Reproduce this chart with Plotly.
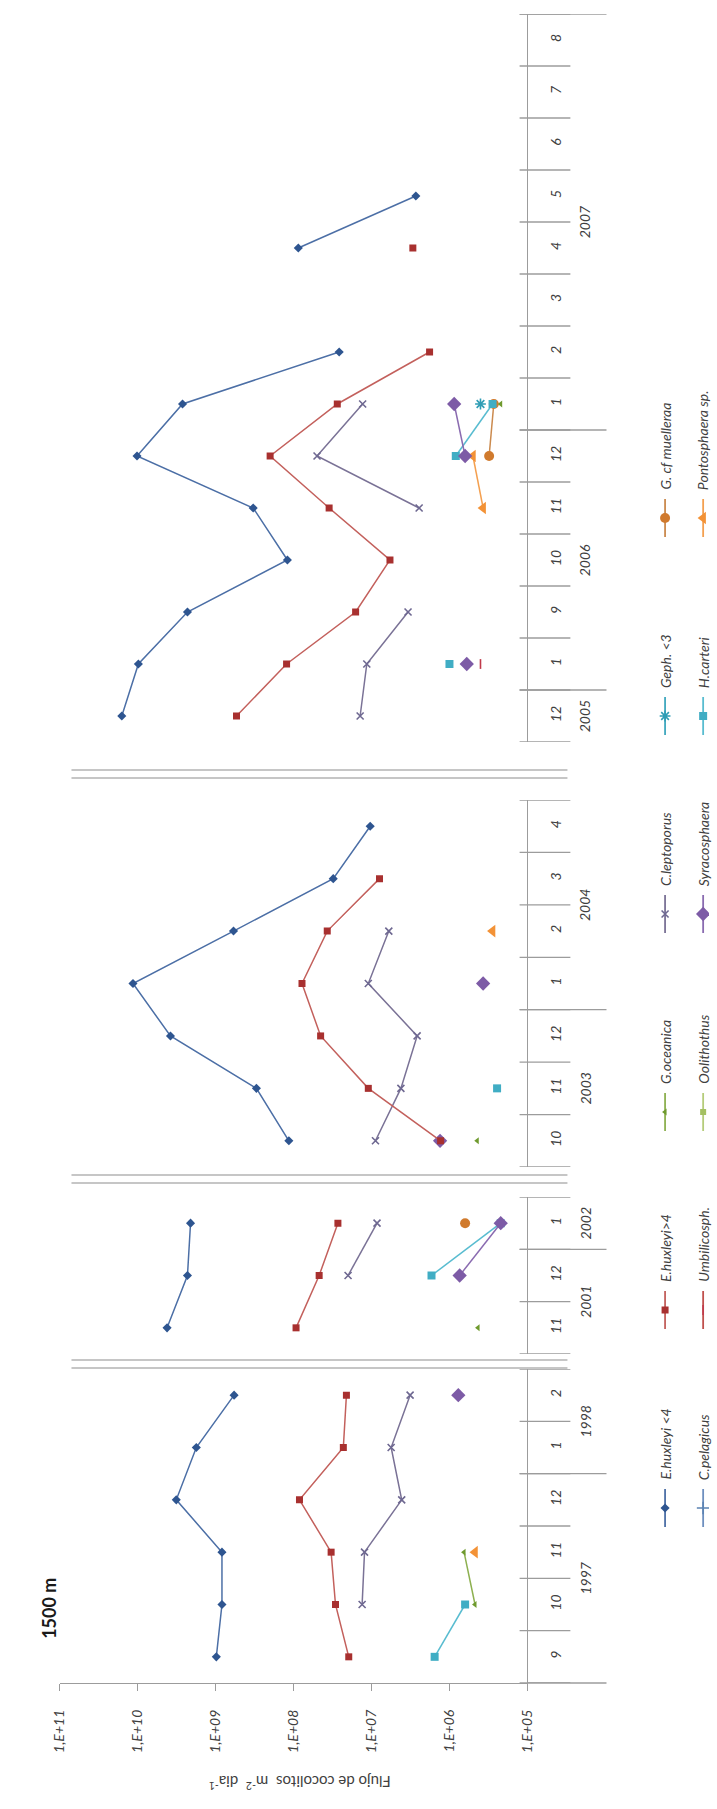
import plotly.graph_objects as go

W, H = 717, 1809
N = None

# ---------------- data: coccolith fluxes (coccoliths m-2 day-1) ----------------
# 1997-1998
months_97 = ["9", "10", "11", "12", "1", "2"]
years_97 = [("1997", 0, 3), ("1998", 4, 5)]
ehux_lt4_97 = [9.8e8, 8.3e8, 8.3e8, 3.2e9, 1.77e9, 5.8e8]
ehux_gt4_97 = [1.96e7, 2.9e7, 3.3e7, 8.4e7, 2.3e7, 2.1e7]
clepto_97 = [N, 1.32e7, 1.23e7, 4.1e6, 5.6e6, 3.2e6]
hcarteri_97 = [1.55e6, 6.3e5, N, N, N, N]
goceanica_97 = [N, 4.7e5, 6.5e5, N, N, N]
ponto_97 = [N, N, 4.7e5, N, N, N]
syraco_97 = [N, N, N, N, N, 7.7e5]

# 2001-2002
months_01 = ["11", "12", "1"]
years_01 = [("2001", 0, 1), ("2002", 2, 2)]
ehux_lt4_01 = [4.2e9, 2.3e9, 2.1e9]
ehux_gt4_01 = [9.3e7, 4.7e7, 2.7e7]
clepto_01 = [N, 2.0e7, 8.5e6]
goceanica_01 = [4.3e5, N, N]
hcarteri_01 = [N, 1.7e6, 2.2e5]
syraco_01 = [N, 7.4e5, 2.2e5]
gcf_01 = [N, N, 6.3e5]

# 2003-2004
months_03 = ["10", "11", "12", "1", "2", "3", "4"]
years_03 = [("2003", 0, 2), ("2004", 3, 6)]
ehux_lt4_03 = [1.15e8, 3.0e8, 3.8e9, 1.15e10, 5.9e8, 3.1e7, 1.04e7]
ehux_gt4_03 = [1.3e6, 1.1e7, 4.5e7, 7.8e7, 3.7e7, 7.9e6, N]
clepto_03 = [8.9e6, 4.2e6, 2.6e6, 1.1e7, 6.0e6, N, N]
syraco_03 = [1.32e6, N, N, 3.7e5, N, N, N]
goceanica_03 = [4.4e5, N, N, N, N, N, N]
hcarteri_03 = [N, 2.45e5, N, N, N, N, N]
ponto_03 = [N, N, N, N, 2.8e5, N, N]

# 2005-2007
months_05 = ["12", "1", "9", "10", "11", "12", "1", "2", "3", "4", "5", "6", "7", "8"]
years_05 = [("2005", 0, 0), ("2006", 1, 5), ("2007", 6, 13)]
ehux_lt4_05 = [1.6e10, 9.8e9, 2.3e9, 1.2e8, 3.3e8, 1.02e10, 2.66e9, 2.6e7, N, 8.7e7, 2.7e6, N, N, N]
ehux_gt4_05 = [5.4e8, 1.23e8, 1.6e7, 5.8e6, 3.5e7, 2.0e8, 2.75e7, 1.8e6, N, 2.95e6, N, N, N, N]
clepto_05 = [1.4e7, 1.15e7, 3.4e6, N, 2.45e6, 5.0e7, 1.3e7, N, N, N, N, N, N, N]
hcarteri_05 = [N, 1.0e6, N, N, N, 8.3e5, 2.8e5, N, N, N, N, N, N, N]
syraco_05 = [N, 6.0e5, N, N, N, 6.3e5, 8.7e5, N, N, N, N, N, N, N]
umbil_05 = [N, 4.0e5, N, N, N, N, N, N, N, N, N, N, N, N]
ponto_05 = [N, N, N, N, 3.7e5, 5.0e5, N, N, N, N, N, N, N, N]
gcf_05 = [N, N, N, N, N, 3.1e5, 2.7e5, N, N, N, N, N, N, N]
geph_05 = [N, N, N, N, N, N, 4.0e5, N, N, N, N, N, N, N]
goceanica_05 = [N, N, N, N, N, N, 2.2e5, N, N, N, N, N, N, N]

value_ticks = [1e11, 1e10, 1e9, 1e8, 1e7, 1e6, 1e5]
value_labels = ["1,E+11", "1,E+10", "1,E+09", "1,E+08", "1,E+07", "1,E+06", "1,E+05"]

legend_col1 = ["E.huxleyi <4", "E.huxleyi>4", "G.oceanica", "C.leptoporus", "Geph. <3", "G. cf muelleraa"]
legend_col2 = ["C.pelagicus", "Umbilicosph.", "Oolithothus", "Syracosphaera", "H.carteri", "Pontosphaera sp."]

# ---------------- styles ----------------
STYLE = {
    "E.huxleyi <4": dict(line="#4C6FA6", marker="#2E5590", symbol="diamond", size=7),
    "E.huxleyi>4": dict(line="#C3605C", marker="#A8302F", symbol="square", size=7),
    "G.oceanica": dict(line="#8DB050", marker="#6F9A2E", symbol="triangle-left", size=6),
    "C.leptoporus": dict(line="#7A7296", marker="#6E6891", symbol="x-thin-open", size=7),
    "Geph. <3": dict(line="#3FA8BE", marker="#2F9DB5", symbol="asterisk-open", size=9),
    "G. cf muelleraa": dict(line="#CB8A4E", marker="#D07A2D", symbol="circle", size=10),
    "C.pelagicus": dict(line="#6E8FBF", marker="#5B83B3", symbol="cross-thin-open", size=9),
    "Umbilicosph.": dict(line="#C0504D", marker="#C0394A", symbol="line-ns-open", size=7),
    "Oolithothus": dict(line="#B5CC7A", marker="#A4C062", symbol="square", size=6),
    "Syracosphaera": dict(line="#8A6BB0", marker="#7D5BA6", symbol="diamond", size=11),
    "H.carteri": dict(line="#58BCD0", marker="#40ADC4", symbol="square", size=8),
    "Pontosphaera sp.": dict(line="#F4A050", marker="#F39236", symbol="triangle-left", size=11),
}

# panels: (y axis id, months, years, series, top px, bottom px)
panels = [
    ("y", months_97, years_97, {
        "E.huxleyi <4": ehux_lt4_97, "E.huxleyi>4": ehux_gt4_97, "C.leptoporus": clepto_97,
        "H.carteri": hcarteri_97, "G.oceanica": goceanica_97, "Pontosphaera sp.": ponto_97,
        "Syracosphaera": syraco_97}, 1369, 1683),
    ("y2", months_01, years_01, {
        "E.huxleyi <4": ehux_lt4_01, "E.huxleyi>4": ehux_gt4_01, "C.leptoporus": clepto_01,
        "G.oceanica": goceanica_01, "H.carteri": hcarteri_01, "Syracosphaera": syraco_01,
        "G. cf muelleraa": gcf_01}, 1197, 1354),
    ("y3", months_03, years_03, {
        "E.huxleyi <4": ehux_lt4_03, "E.huxleyi>4": ehux_gt4_03, "C.leptoporus": clepto_03,
        "Syracosphaera": syraco_03, "G.oceanica": goceanica_03, "H.carteri": hcarteri_03,
        "Pontosphaera sp.": ponto_03}, 800, 1167),
    ("y4", months_05, years_05, {
        "E.huxleyi <4": ehux_lt4_05, "E.huxleyi>4": ehux_gt4_05, "C.leptoporus": clepto_05,
        "H.carteri": hcarteri_05, "Syracosphaera": syraco_05, "Umbilicosph.": umbil_05,
        "Pontosphaera sp.": ponto_05, "G. cf muelleraa": gcf_05, "Geph. <3": geph_05,
        "G.oceanica": goceanica_05}, 14, 742),
]

AX_X0, AX_X1 = 52, 531          # value axis span (px)
AXIS_COL = "#9C9C9C"
TXT = "#404040"
FONT = "Lato"


def px(x):
    return x / W


def py(y):
    return 1 - y / H


fig = go.Figure()
shapes, annotations = [], []

# draw order: small species first, the abundant ones on top
order = ["Pontosphaera sp.", "G. cf muelleraa", "G.oceanica", "Oolithothus", "Umbilicosph.",
         "Geph. <3", "H.carteri", "Syracosphaera", "C.pelagicus", "C.leptoporus",
         "E.huxleyi>4", "E.huxleyi <4"]

for yid, months, years, series, top, bot in panels:
    idx = list(range(len(months)))
    for name in order:
        if name not in series:
            continue
        st = STYLE[name]
        open_sym = st["symbol"].endswith("open")
        fig.add_trace(go.Scatter(
            x=series[name], y=idx, xaxis="x", yaxis=yid, mode="lines+markers",
            connectgaps=False, showlegend=False, name=name,
            line=dict(color=st["line"], width=1.5),
            marker=dict(symbol=st["symbol"], size=st["size"], color=st["marker"],
                        line=dict(color=st["marker"], width=1.6 if open_sym else 0)),
        ))
    n = len(months)
    # category separators (month level)
    for k in range(n + 1):
        shapes.append(dict(type="line", xref="paper", yref=yid, x0=px(523), x1=px(575),
                           y0=k - 0.5, y1=k - 0.5, line=dict(color=AXIS_COL, width=1.3)))
    # year labels and year separators
    for label, i0, i1 in years:
        annotations.append(dict(xref="paper", yref=yid, x=px(601), y=(i0 + i1) / 2,
                                text=label, textangle=-90, showarrow=False,
                                font=dict(family=FONT, size=14, color=TXT, style="italic")))
        if i0 > 0:
            shapes.append(dict(type="line", xref="paper", yref=yid, x0=px(523), x1=px(612),
                               y0=i0 - 0.5, y1=i0 - 0.5, line=dict(color=AXIS_COL, width=1.3)))

# outer year-level separators at chart extremes
shapes.append(dict(type="line", xref="paper", yref="y4", x0=px(523), x1=px(612),
                   y0=len(months_05) - 0.5, y1=len(months_05) - 0.5,
                   line=dict(color=AXIS_COL, width=1.3)))
shapes.append(dict(type="line", xref="paper", yref="paper", x0=px(AX_X1), x1=px(612),
                   y0=py(1683), y1=py(1683), line=dict(color=AXIS_COL, width=1.3)))

# axis break marks (double lines)
for y0 in (1360, 1175, 770):
    for dy in (0, 8):
        shapes.append(dict(type="line", xref="paper", yref="paper", x0=px(64), x1=px(572),
                           y0=py(y0 + dy), y1=py(y0 + dy),
                           line=dict(color="#C6C6C6", width=2)))

layout = dict(
    width=W, height=H, margin=dict(l=0, r=0, t=0, b=0),
    paper_bgcolor="white", plot_bgcolor="rgba(0,0,0,0)", showlegend=False,
    xaxis=dict(type="log", range=[11, 5], domain=[px(AX_X0), px(AX_X1)], anchor="y",
               tickvals=value_ticks, ticktext=value_labels, tickangle=-90,
               ticks="outside", ticklen=7, tickcolor=AXIS_COL, tickwidth=1.3,
               showline=True, linecolor=AXIS_COL, linewidth=1.3, showgrid=False,
               zeroline=False, ticklabelstandoff=13,
               tickfont=dict(family=FONT, size=14, color=TXT, style="italic")),
)
for i, (yid, months, years, series, top, bot) in enumerate(panels):
    key = "yaxis" if yid == "y" else "yaxis" + yid[1:]
    layout[key] = dict(domain=[py(bot), py(top)], anchor="x", side="right",
                       range=[-0.5, len(months) - 0.5], tickvals=list(range(len(months))),
                       ticktext=months, tickangle=-90, ticks="", showgrid=False,
                       zeroline=False, showline=True, linecolor=AXIS_COL, linewidth=1.3,
                       ticklabelstandoff=16,
                       tickfont=dict(family=FONT, size=14, color=TXT, style="italic"))

# overlay axes in pixel units for the legend keys
layout["xaxis2"] = dict(domain=[0, 1], range=[0, W], anchor="y5", visible=False, fixedrange=True)
layout["yaxis5"] = dict(domain=[0, 1], range=[H, 0], anchor="x2", visible=False, fixedrange=True)
fig.update_layout(**layout)

LEG_Y = [1508, 1310, 1112, 914, 716, 518]
for col_x, names in ((672, legend_col1), (711, legend_col2)):
    for name, ym in zip(names, LEG_Y):
        st = STYLE[name]
        open_sym = st["symbol"].endswith("open")
        fig.add_trace(go.Scatter(x=[col_x, col_x], y=[ym - 19, ym + 19], xaxis="x2", yaxis="y5",
                                 mode="lines", line=dict(color=st["line"], width=1.8),
                                 showlegend=False, hoverinfo="skip"))
        fig.add_trace(go.Scatter(x=[col_x], y=[ym], xaxis="x2", yaxis="y5", mode="markers",
                                 marker=dict(symbol=st["symbol"], size=st["size"], color=st["marker"],
                                             line=dict(color=st["marker"], width=1.6 if open_sym else 0)),
                                 showlegend=False, hoverinfo="skip"))
        annotations.append(dict(xref="paper", yref="paper", x=px(col_x), y=py(ym - 26),
                                xanchor="center", yanchor="bottom", text=name, textangle=-90,
                                showarrow=False,
                                font=dict(family=FONT, size=14, color=TXT, style="italic")))

annotations.append(dict(xref="paper", yref="paper", x=px(27), y=py(1641), text="<b>1500 m</b>",
                        textangle=-90, showarrow=False,
                        font=dict(family=FONT, size=18, color="#1a1a1a")))
annotations.append(dict(xref="paper", yref="paper", x=px(298), y=py(1794),
                        text="Flujo de cocolitos  m<sup>-2</sup>  dia<sup>-1</sup>",
                        textangle=180, showarrow=False,
                        font=dict(family=FONT, size=15, color=TXT)))

fig.update_layout(shapes=shapes, annotations=annotations)
fig.write_html("out.html")
